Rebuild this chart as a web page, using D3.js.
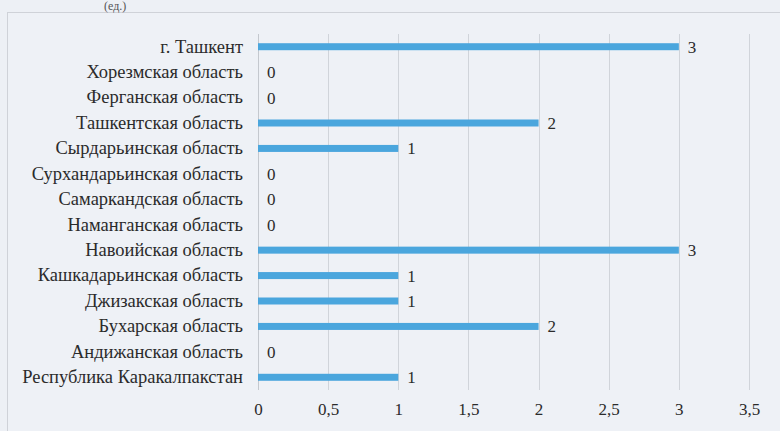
<!DOCTYPE html>
<html>
<head>
<meta charset="utf-8">
<script src="https://cdn.jsdelivr.net/npm/d3@7"></script>
<style>
  body { margin: 0; background: #edf0f5; }
  svg { display: block; }
  text { font-family: "Liberation Serif", "Tinos", "DejaVu Serif", serif; fill: #2b2b2b; }
</style>
</head>
<body>
<svg id="bar-chart" width="780" height="431"></svg>
<script>
// categories from top to bottom as they appear
var regions = [
  "г. Ташкент",
  "Хорезмская область",
  "Ферганская область",
  "Ташкентская область",
  "Сырдарьинская область",
  "Сурхандарьинская область",
  "Самаркандская область",
  "Наманганская область",
  "Навоийская область",
  "Кашкадарьинская область",
  "Джизакская область",
  "Бухарская область",
  "Андижанская область",
  "Республика Каракалпакстан"
];
var counts = [3, 0, 0, 2, 1, 0, 0, 0, 3, 1, 1, 2, 0, 1];
var xTicks = [0, 0.5, 1, 1.5, 2, 2.5, 3, 3.5];

var data = regions.map(function(r, i) { return {region: r, count: counts[i]}; });

var serif = '"Liberation Serif", "Tinos", "DejaVu Serif", serif';

var svg = d3.select("#bar-chart"),
    margin = {top: 34, right: 31, bottom: 41, left: 258},
    width = + svg.attr("width") - margin.left - margin.right,
    height = + svg.attr("height") - margin.top - margin.bottom;

// scanned page frame and heading above it
svg.append("rect")
    .attr("x", 7.5).attr("y", 12.5)
    .attr("width", 790).attr("height", 440)
    .attr("fill", "#eef1f6")
    .attr("stroke", "#cfd2d8");

svg.append("text")
    .attr("x", 104).attr("y", 10)
    .style("font-size", "12px")
    .style("font-family", serif)
    .style("fill", "#555")
    .text("(ед.)");

var x = d3.scaleLinear().domain([0, 3.5]).range([0, width]);
var y = d3.scaleBand().domain(regions).range([0, height]);

var g = svg.append("g")
    .attr("transform", "translate(" + margin.left + "," + margin.top + ")");

// vertical grid
g.append("g")
    .attr("class", "grid")
    .selectAll("line")
    .data(xTicks)
  .enter().append("line")
    .attr("x1", function(d) { return Math.round(x(d)) + 0.5; })
    .attr("x2", function(d) { return Math.round(x(d)) + 0.5; })
    .attr("y1", 0)
    .attr("y2", height)
    .attr("stroke", function(d) { return d === 0 ? "#c4c8ce" : "#d0d4da"; })
    .attr("stroke-width", 1);

// x tick labels
g.append("g")
    .attr("transform", "translate(0," + height + ")")
    .attr("font-family", serif)
    .call(d3.axisBottom(x)
            .tickValues(xTicks)
            .tickSize(0)
            .tickPadding(13)
            .tickFormat(function(d) { return String(d).replace(".", ","); }))
    .call(function(a) { a.select(".domain").remove(); })
    .selectAll("text")
    .style("font-size", "17px")
    .style("font-family", serif)
    .style("fill", "#2b2b2b");

// category labels
g.append("g")
    .attr("font-family", serif)
    .call(d3.axisLeft(y).tickSize(0).tickPadding(15))
    .call(function(a) { a.select(".domain").remove(); })
    .selectAll("text")
    .style("font-size", "18.5px")
    .style("font-family", serif)
    .style("fill", "#2b2b2b");

var barH = 7;

g.selectAll(".bar")
    .data(data)
  .enter().append("rect")
    .attr("class", "bar")
    .attr("x", x(0))
    .attr("y", function(d) { return y(d.region) + y.bandwidth() / 2 - barH / 2; })
    .attr("height", barH)
    .attr("width", function(d) { return x(d.count); })
    .attr("fill", "#4aa6dd");

g.selectAll(".bartext")
    .data(data)
  .enter().append("text")
    .attr("class", "bartext")
    .attr("x", function(d) { return x(d.count) + 9; })
    .attr("y", function(d) { return y(d.region) + y.bandwidth() / 2; })
    .attr("dy", "0.35em")
    .style("font-size", "17px")
    .style("font-family", serif)
    .text(function(d) { return d.count; });
</script>
</body>
</html>
